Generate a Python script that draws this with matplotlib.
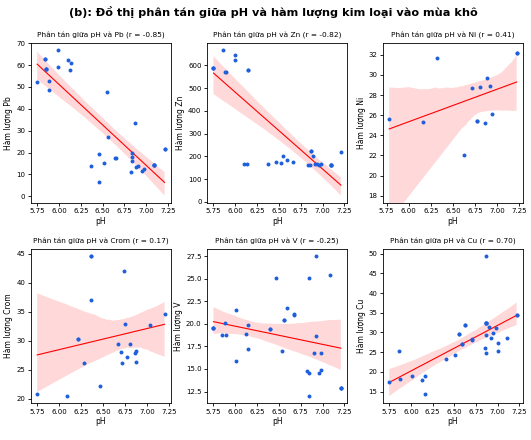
import numpy as np
import matplotlib
matplotlib.use("Agg")
import matplotlib.pyplot as plt
import seaborn as sns

# pH and metal content per sample
# (the last few entries of each list are samples hidden under other dots)
ph_pb = [5.75, 5.84, 5.85, 5.88, 5.88, 5.99, 5.99, 6.10, 6.14, 6.13, 6.55, 6.56, 6.37, 6.46,
         6.46, 6.51, 6.64, 6.65, 6.84, 6.84, 6.84, 6.87, 6.88, 6.91, 6.82, 6.95, 6.97, 7.09, 7.21,
         7.21, 5.84, 7.09, 5.85, 7.09, 5.85, 7.09]
pb = [52.1, 62.8, 58.3, 52.9, 48.4, 66.9, 58.9, 62.5, 61.0, 57.7, 47.7, 26.9, 13.7, 19.4,
      6.5, 15.4, 17.7, 17.7, 19.9, 18.0, 16.0, 33.6, 13.4, 13.7, 11.2, 11.4, 12.4, 14.2, 21.5,
      21.5, 62.8, 14.2, 58.3, 14.2, 58.3, 14.2]

ph_zn = [5.75, 5.86, 5.89, 5.88, 6.00, 6.00, 6.15, 6.10, 6.13, 6.38, 6.47, 6.52, 6.55, 6.59,
         6.66, 6.83, 6.86, 6.87, 6.89, 6.91, 6.96, 6.98, 6.94, 7.10, 7.21,
         5.75, 7.10, 5.75, 7.10, 6.87, 6.15, 7.10]
zn = [588, 667, 569, 572, 647, 621, 579, 165, 165, 168, 177, 170, 200, 184,
      177, 163, 163, 225, 202, 166, 163, 166, 166, 163, 219,
      588, 163, 588, 163, 225, 579, 163]

ph_ni = [5.78, 6.16, 6.32, 6.62, 6.72, 6.77, 6.81, 6.86, 6.89, 6.92, 6.94, 7.22, 7.22, 6.77]
ni = [25.6, 25.3, 31.7, 22.05, 28.7, 25.4, 28.8, 25.2, 29.7, 28.9, 26.1, 32.2, 32.2, 25.4]

ph_cr = [5.75, 6.09, 6.21, 6.28, 6.36, 6.36, 6.46, 6.67, 6.70, 6.71, 6.74, 6.75, 6.77, 6.81,
         6.86, 6.87, 6.88, 7.03, 7.20, 6.36, 6.21]
cr = [20.9, 20.5, 30.4, 26.2, 44.6, 37.1, 22.2, 29.4, 28.1, 26.2, 42.0, 32.9, 27.3, 29.4,
      27.9, 28.2, 26.4, 32.7, 34.7, 44.6, 30.4]

ph_v = [5.75, 5.85, 5.89, 5.88, 6.01, 6.01, 6.12, 6.15, 6.15, 6.40, 6.47, 6.53, 6.56, 6.59,
        6.67, 6.67, 6.82, 6.85, 6.85, 6.85, 6.90, 6.92, 6.93, 6.96, 6.98, 6.98, 7.09, 7.21,
        7.21, 7.21, 5.75, 6.56, 5.75, 6.40]
v = [19.5, 18.75, 18.75, 20.1, 21.5, 15.9, 18.9, 19.85, 17.25, 19.45, 25.05, 17.0, 20.4, 21.8,
     21.1, 21.0, 14.8, 25.05, 14.6, 12.0, 16.8, 27.5, 18.6, 14.6, 14.85, 16.8, 25.4, 12.9,
     12.9, 12.9, 19.5, 20.4, 19.5, 19.45]

ph_cu = [5.75, 5.88, 5.86, 6.01, 6.13, 6.16, 6.16, 6.41, 6.51, 6.55, 6.59, 6.59, 6.62, 6.70,
         6.70, 6.85, 6.87, 6.87, 6.87, 6.90, 6.92, 6.95, 6.98, 7.00, 7.01, 7.11, 7.22, 6.87,
         7.22, 6.62, 6.87, 6.87, 6.55, 6.87]
cu = [17.5, 18.3, 25.2, 18.9, 18.0, 19.0, 14.3, 23.2, 24.2, 29.6, 27.1, 27.1, 32.0, 28.3,
      28.0, 26.1, 32.5, 29.4, 24.7, 31.3, 28.7, 29.9, 31.1, 27.3, 25.3, 28.6, 34.4, 49.4,
      34.4, 32.0, 32.5, 32.5, 29.6, 32.5]

metals = ["Pb", "Zn", "Ni", "Crom", "V", "Cu"]
ph_list = [ph_pb, ph_zn, ph_ni, ph_cr, ph_v, ph_cu]
val_list = [pb, zn, ni, cr, v, cu]
r_vals = [-0.85, -0.82, 0.41, 0.17, -0.25, 0.70]

fig = plt.figure(figsize=(5.31, 4.4), dpi=100)

lefts = [0.058, 0.390, 0.721]
rows = [(0.539, 0.364), (0.084, 0.350)]

for i, name in enumerate(metals):
    b, h = rows[i // 3]
    ax = fig.add_axes([lefts[i % 3], b, 0.264, h])
    x = np.array(ph_list[i])
    y = np.array(val_list[i])
    sns.regplot(x=x, y=y, ax=ax, scatter=False, color="red", seed=0,
                line_kws={"linewidth": 0.8})
    ax.scatter(x, y, s=8, color="#1f5fdc", zorder=3, linewidths=0)
    ax.set_title(f"Phân tán giữa pH và {name} (r = {r_vals[i]:.2f})", fontsize=5.3, pad=4)
    ax.set_xlabel("pH", fontsize=5.5, labelpad=2)
    ax.set_ylabel(f"Hàm lượng {name}", fontsize=5.5, labelpad=2)
    ax.set_xticks([5.75, 6.0, 6.25, 6.5, 6.75, 7.0, 7.25])
    ax.tick_params(labelsize=5, length=2.5, width=0.6, pad=1.5)
    for s in ax.spines.values():
        s.set_linewidth(0.6)
    if name == "Ni":
        ax.set_yticks(np.arange(18, 33, 2))
        ax.set_ylim(17.3, 33.2)
    if name == "V":
        ax.set_yticks(np.arange(12.5, 28, 2.5))

fig.suptitle("(b): Đồ thị phân tán giữa pH và hàm lượng kim loại vào mùa khô",
             fontsize=8.1, fontweight="bold", x=0.515, y=0.985)

fig.savefig("out.png", dpi=100)
